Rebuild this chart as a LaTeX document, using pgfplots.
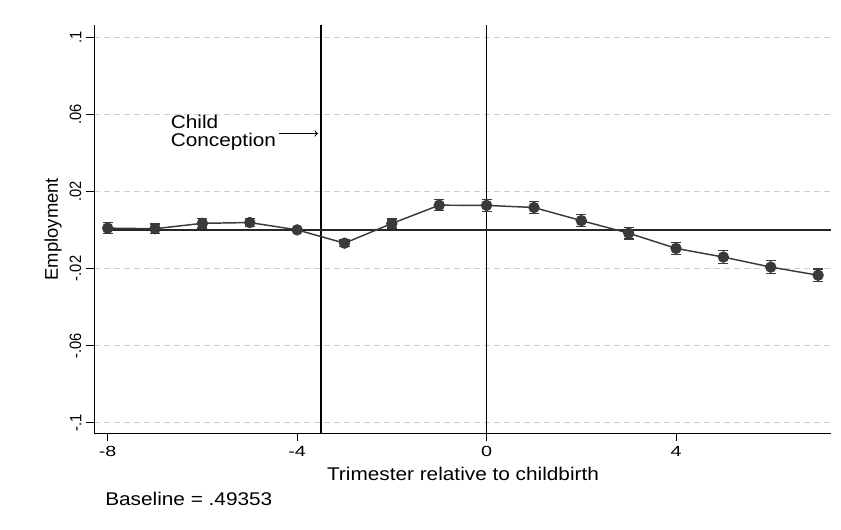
\documentclass[border=0pt]{standalone}
\usepackage{fontspec}
\setmainfont{Liberation Sans}[FakeStretch=1.13]
\newfontfamily\plainfont{Liberation Sans}
\newfontfamily\tickfont{Liberation Sans}[FakeStretch=1.35]
\usepackage{graphicx}
\usepackage{pgfplots}
\pgfplotsset{compat=1.18}
\definecolor{mk}{HTML}{3A3A3A}
\definecolor{gridc}{HTML}{CFCFCF}
\newcommand\ylab[1]{\scalebox{1}[1.12]{\fontsize{11}{13}\plainfont #1}}
\newcommand\xlab[1]{{\fontsize{11}{13}\tickfont #1}}
\pgfplotstableread{
x y e
-8 0.0009 0.0028
-7 0.0006 0.0025
-6 0.0034 0.0025
-5 0.0038 0.0020
-4 0.0000 0.0000
-3 -0.0069 0.0017
-2 0.0033 0.0024
-1 0.0128 0.0028
0 0.0127 0.0031
1 0.0116 0.0032
2 0.0048 0.0032
3 -0.0017 0.0030
4 -0.0096 0.0032
5 -0.0141 0.0033
6 -0.0193 0.0033
7 -0.0235 0.0033
}\datatable
\begin{document}
\begin{tikzpicture}[font=\fontsize{13.8}{13.7}\selectfont]
\begin{axis}[
  at={(0,0)}, anchor=south west,
  scale only axis, width=552.75pt, height=306.2pt,
  xmin=-8.289, xmax=7.272, ymin=-0.1055, ymax=0.1062,
  axis x line*=bottom, axis y line*=left,
  axis line style={black, line width=0.75pt, -},
  xtick={-8,-4,0,4}, xticklabels={\xlab{-8},\xlab{-4},\xlab{0},\xlab{4}},
  ytick={-0.1,-0.06,-0.02,0.02,0.06,0.1},
  yticklabels={\ylab{-.1},\ylab{-.06},\ylab{-.02},\ylab{.02},\ylab{.06},\ylab{.1}},
  tick align=outside, major tick length=6pt,
  tick style={black, line width=0.75pt},
  ymajorgrids, grid style={gridc, dash pattern=on 4.5pt off 3pt, line width=0.75pt},
  yticklabel style={rotate=90, anchor=south, xshift=0pt},
  clip=false,
]
\addplot[black, line width=1.2pt, forget plot] coordinates {(-3.5,-0.1055) (-3.5,0.1062)};
\addplot[black, line width=1.2pt, forget plot] coordinates {(0,-0.1055) (0,0.1062)};
\addplot[black!85, line width=1.3pt, forget plot] coordinates {(-8.1,0) (7.272,0)};
\addplot[mk, line width=1.1pt, mark=*, mark size=3.7pt,
  mark options={fill=mk, draw=mk, solid},
  error bars/.cd, y dir=both, y explicit,
  error bar style={mk, line width=1pt},
  error mark options={rotate=90, mk, mark size=3.8pt, line width=1pt}]
  table[x=x, y=y, y error=e] {\datatable};
\node[align=left, anchor=east, inner sep=0pt] at (axis cs:-4.44,0.0505) {Child\\Conception};
\draw[->, black, line width=0.8pt] (axis cs:-4.38,0.05) -- (axis cs:-3.56,0.05);
\end{axis}
\node[anchor=base] at (276.75pt,-35pt) {Trimester relative to childbirth};
\node[rotate=90, anchor=base] at (-27pt,153.1pt) {\plainfont Employment};
\node[anchor=base west, inner sep=0pt] at (8.25pt,-53.8pt) {Baseline = .49353};
\pgfresetboundingbox
\path (-70.5pt,-71.8pt) rectangle (560.25pt,325pt);
\end{tikzpicture}
\end{document}
